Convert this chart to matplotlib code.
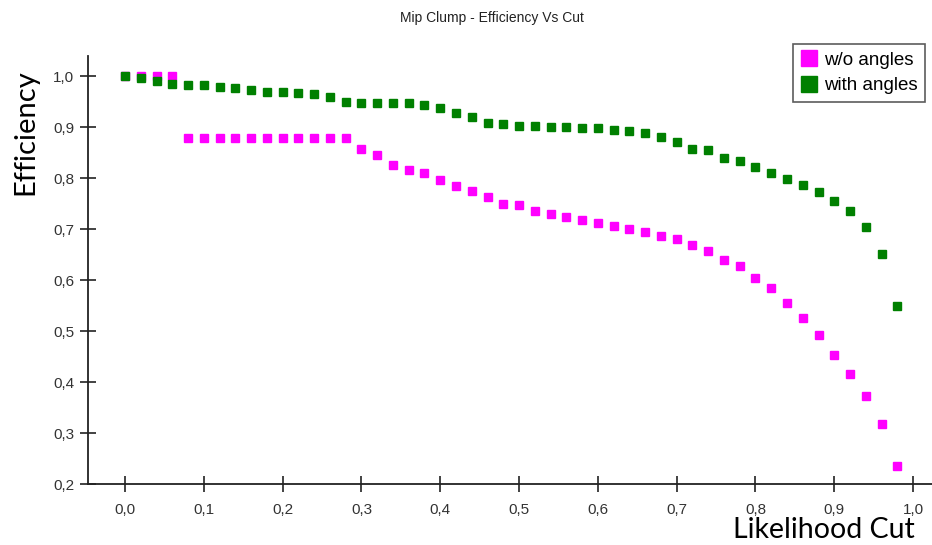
import matplotlib
matplotlib.use("Agg")
import matplotlib.pyplot as plt
from matplotlib.ticker import FuncFormatter

cuts = [round(0.02 * i, 2) for i in range(50)]
wo_angles = [1.0, 1.0, 1.0, 1.0,
             0.88, 0.88, 0.88, 0.88, 0.88, 0.88, 0.88, 0.88, 0.88, 0.88, 0.88,
             0.857, 0.845, 0.827, 0.816, 0.810, 0.796, 0.784, 0.775, 0.763, 0.749,
             0.747, 0.735, 0.729, 0.724, 0.718, 0.712, 0.706, 0.700, 0.694, 0.686,
             0.680, 0.669, 0.657, 0.639, 0.627, 0.604, 0.584, 0.555, 0.525, 0.492,
             0.453, 0.416, 0.373, 0.318, 0.235]
with_angles = [1.0, 0.996, 0.990, 0.986, 0.984, 0.984, 0.980, 0.978, 0.973, 0.969,
               0.969, 0.967, 0.965, 0.959, 0.949, 0.947, 0.947, 0.947, 0.947, 0.943,
               0.937, 0.929, 0.920, 0.908, 0.906, 0.902, 0.902, 0.900, 0.900, 0.898,
               0.898, 0.894, 0.892, 0.888, 0.882, 0.871, 0.857, 0.855, 0.839, 0.833,
               0.822, 0.810, 0.798, 0.786, 0.773, 0.755, 0.735, 0.704, 0.651, 0.549]
x_ticks = [0.0, 0.1, 0.2, 0.3, 0.4, 0.5, 0.6, 0.7, 0.8, 0.9, 1.0]
y_ticks = [0.2, 0.3, 0.4, 0.5, 0.6, 0.7, 0.8, 0.9, 1.0]

fig = plt.figure(figsize=(9.32, 5.45), dpi=100)
ax = fig.add_axes([88/932, 1-484/545, 1-88/932, (484-56)/545])

ax.plot(cuts, wo_angles, linestyle='none', marker='s', markersize=6.3,
        color='#ff00ff', markeredgecolor='#ff00ff', label='w/o angles')
ax.plot(cuts, with_angles, linestyle='none', marker='s', markersize=6.3,
        color='#008000', markeredgecolor='#008000', label='with angles')

ax.set_xlim(-0.047, 1.024)
ax.set_ylim(0.2, 1.04)
ax.set_xticks(x_ticks)
ax.set_yticks(y_ticks)
fmt = FuncFormatter(lambda v, p: f"{v:.1f}".replace('.', ','))
ax.xaxis.set_major_formatter(fmt)
ax.yaxis.set_major_formatter(fmt)

for s in ['top', 'right']:
    ax.spines[s].set_visible(False)
for s in ['left', 'bottom']:
    ax.spines[s].set_color('#222222')
    ax.spines[s].set_linewidth(1.3)

ax.tick_params(axis='both', direction='inout', length=12, width=1.2,
               colors='#222222', labelsize=11, labelcolor='#333333')
ax.tick_params(axis='x', pad=8)
ax.tick_params(axis='y', pad=4)
for lab in ax.get_xticklabels() + ax.get_yticklabels():
    lab.set_family(['Liberation Sans Narrow', 'Liberation Sans', 'DejaVu Sans'])

fig.text(492/932, 1-18/545, 'Mip Clump - Efficiency Vs Cut', ha='center', va='center',
         fontsize=10, color='#222222', family=['Liberation Sans', 'DejaVu Sans'])
fig.text(25/932, 1-132/545, 'Efficiency', rotation=90, ha='center', va='center',
         fontsize=21, color='black', family=['Lato', 'DejaVu Sans'])
fig.text(915/932, 1-530/545, 'Likelihood Cut', ha='right', va='center',
         fontsize=20.5, color='black', family=['Lato', 'DejaVu Sans'])

leg = fig.legend(loc='upper left', bbox_to_anchor=(793/932, 1-44/545),
                 frameon=True, fancybox=False, edgecolor='#333333',
                 prop={'family': ['Liberation Sans', 'DejaVu Sans'], 'size': 13.5},
                 markerscale=1.9, handletextpad=0.35, borderpad=0.4, labelspacing=0.45,
                 handlelength=0.9, borderaxespad=0)
leg.get_frame().set_linewidth(1.2)

fig.savefig('out.png', dpi=100)
